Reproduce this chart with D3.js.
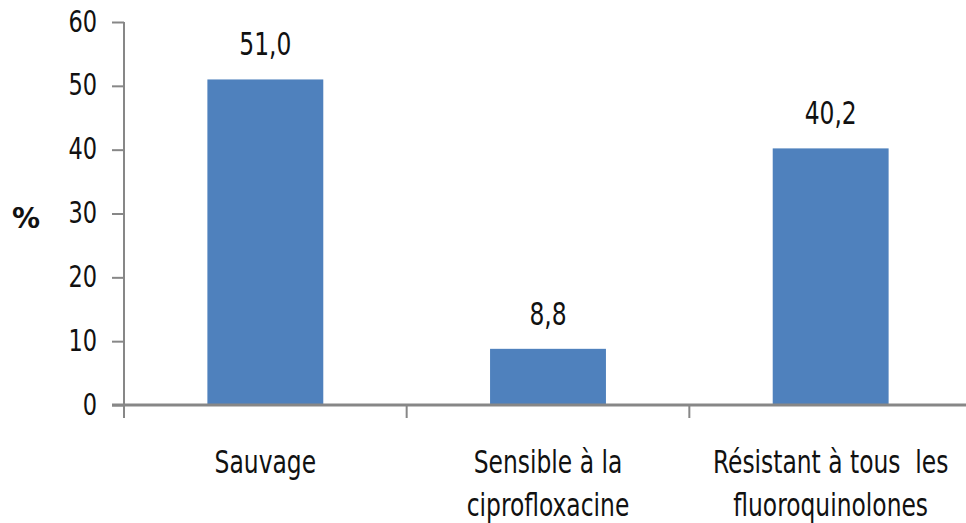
<!DOCTYPE html>
<html><head><meta charset="utf-8">
<script src="https://cdn.jsdelivr.net/npm/d3@7"></script>
<style>
html,body{margin:0;padding:0;background:#fff;}
svg{display:block;}
</style></head>
<body>
<svg id="chart" width="966" height="523"></svg>
<script>
const categories = [["Sauvage"], ["Sensible à la", "ciprofloxacine"], ["Résistant à tous  les", "fluoroquinolones"]];
const values = [51.0, 8.8, 40.2];
const valueLabels = ["51,0", "8,8", "40,2"];
const yTicks = [0, 10, 20, 30, 40, 50, 60];
const yLabel = "%";

const svg = d3.select("#chart");
const font = "'DejaVu Sans Condensed', sans-serif";
const fs = "26px";
const sy = 1.22;
const textColor = "#111";
const axisColor = "#878787";

const x = d3.scaleBand().domain(d3.range(categories.length)).range([124, 972])
  .paddingInner(0.59).paddingOuter(0.295);
const y = d3.scaleLinear().domain([0, 60]).range([405, 22]);

// bars
svg.selectAll("rect.bar").data(values).join("rect")
  .attr("class", "bar")
  .attr("x", (d, i) => x(i))
  .attr("width", x.bandwidth())
  .attr("y", d => y(d))
  .attr("height", d => y(0) - y(d))
  .attr("fill", "#4F81BD");

// y axis
const yAxis = svg.append("g").attr("transform", "translate(124,0)")
  .call(d3.axisLeft(y).tickValues(yTicks).tickSize(12).tickPadding(15).tickFormat(d3.format("d")));
yAxis.select(".domain").attr("stroke", axisColor).attr("stroke-width", 2).attr("d", `M0,${y(60)}V${y(0)}`);
yAxis.selectAll(".tick line").attr("stroke", axisColor).attr("stroke-width", 2);
yAxis.selectAll(".tick text").attr("fill", textColor).style("font-family", font).style("font-size", "25px")
  .attr("dy", "0.3em").attr("transform", `scale(1,${sy})`);

// x axis
const step = x.step();
const bounds = d3.range(categories.length + 1).map(i => x.range()[0] + i * step);
svg.selectAll("line.xtick").data(bounds.slice(0, 3)).join("line")
  .attr("class", "xtick")
  .attr("x1", d => d).attr("x2", d => d)
  .attr("y1", y(0)).attr("y2", y(0) + 13)
  .attr("stroke", axisColor).attr("stroke-width", 2);
svg.append("line")
  .attr("x1", 112).attr("x2", x.range()[1])
  .attr("y1", y(0)).attr("y2", y(0))
  .attr("stroke", axisColor).attr("stroke-width", 3);

// value labels
svg.selectAll("text.val").data(values).join("text")
  .attr("class", "val")
  .attr("transform", (d, i) => `translate(${x(i) + x.bandwidth() / 2},${y(d) - 24}) scale(1,${sy})`)
  .attr("text-anchor", "middle")
  .attr("fill", textColor)
  .style("font-family", font).style("font-size", fs)
  .text((d, i) => valueLabels[i]);

// category labels
const catG = svg.selectAll("g.cat").data(categories).join("g")
  .attr("class", "cat");
catG.selectAll("text").data((d, i) => d.map(t => ({t, i}))).join("text")
  .attr("transform", (d, j) => `translate(${x(d.i) + x.bandwidth() / 2},${473 + j * 43}) scale(1,${sy})`)
  .attr("text-anchor", "middle")
  .attr("fill", textColor)
  .style("font-family", font).style("font-size", fs)
  .style("white-space", "pre")
  .text(d => d.t);

// y label
svg.append("text")
  .attr("x", 12).attr("y", 228)
  .attr("fill", textColor)
  .style("font-family", "'DejaVu Sans', sans-serif").style("font-weight", "bold").style("font-size", "28px")
  .text(yLabel);
</script>
</body></html>
